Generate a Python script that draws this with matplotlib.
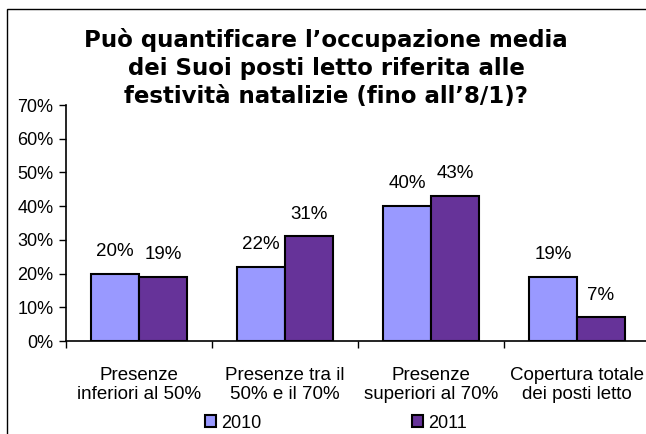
import numpy as np
import matplotlib.pyplot as plt
from matplotlib.patches import Rectangle

categories = ["Presenze\ninferiori al 50%", "Presenze tra il\n50% e il 70%",
              "Presenze\nsuperiori al 70%", "Copertura totale\ndei posti letto"]
series = ["2010", "2011"]
values_2010 = [20, 22, 40, 19]
values_2011 = [19, 31, 43, 7]
colors = ["#9999FF", "#663399"]

plt.rcParams["font.family"] = ["Liberation Sans", "DejaVu Sans"]

W, H = 646, 434
fig = plt.figure(figsize=(W / 100, H / 100), dpi=100)
ax = fig.add_axes([66 / W, (H - 341) / H, 584 / W, 236 / H])

x = np.arange(len(categories))
bw = 0.329
b1 = ax.bar(x - bw / 2, values_2010, bw, color=colors[0], edgecolor="black", lw=1.5, label=series[0])
b2 = ax.bar(x + bw / 2, values_2011, bw, color=colors[1], edgecolor="black", lw=1.5, label=series[1])

for bars, vals in ((b1, values_2010), (b2, values_2011)):
    for b, v in zip(bars, vals):
        ax.annotate(f"{v}%", (b.get_x() + b.get_width() / 2, v), xytext=(0, 10),
                    textcoords="offset points", ha="center", va="bottom", fontsize=13.5)

ax.set_xlim(-0.5, 3.5)
ax.set_ylim(0, 70)
ax.set_yticks(range(0, 71, 10))
ax.set_yticklabels([f"{t}%" for t in range(0, 71, 10)], fontsize=13)
ax.set_xticks(x)
ax.set_xticklabels(categories, fontsize=13.5, linespacing=1.1)
ax.set_xticks(np.arange(-0.5, 3.6, 1), minor=True)
ax.tick_params(axis="x", which="major", length=0, pad=19)
ax.tick_params(axis="x", which="minor", length=5, direction="out", width=1)
ax.tick_params(axis="y", length=5, width=1, pad=4)
for s in ("top", "right"):
    ax.spines[s].set_visible(False)
for s in ("left", "bottom"):
    ax.spines[s].set_linewidth(1.2)

fig.text(326 / W, 1 - 68 / H, "Può quantificare l’occupazione media\ndei Suoi posti letto riferita alle\nfestività natalizie (fino all’8/1)?",
         ha="center", va="center", fontsize=16.5, fontweight="bold", family="DejaVu Sans", linespacing=1.3)

fig.legend(handles=[b1, b2], labels=series, loc="center", bbox_to_anchor=(336 / W, 11 / H),
           ncol=2, frameon=False, fontsize=13, handlelength=0.6, handleheight=0.6,
           handletextpad=0.3, columnspacing=8.3)

fig.add_artist(Rectangle((7 / W, -0.1), 1.0, (H - 9) / H + 0.1, transform=fig.transFigure,
                         fill=False, lw=1, edgecolor="black"))

fig.savefig("out.png", dpi=100)
